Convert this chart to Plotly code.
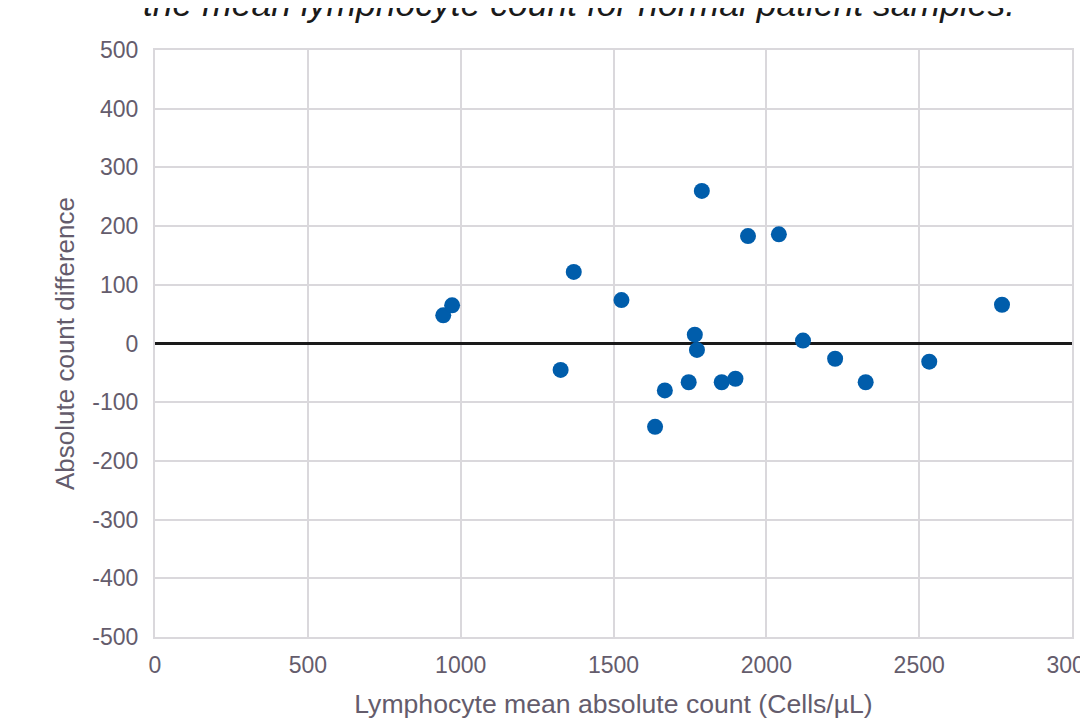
import plotly.graph_objects as go

mean_count = [943, 972, 1327, 1370, 1526, 1636, 1668, 1746, 1766, 1773,
              1789, 1854, 1899, 1940, 2041, 2120, 2225, 2325, 2533, 2771]
count_diff = [48, 65, -45, 122, 74, -142, -80, -66, 15, -11,
              260, -66, -60, 183, 186, 5, -26, -66, -31, 66]

x_ticks = [0, 500, 1000, 1500, 2000, 2500, 3000]
y_ticks = [-500, -400, -300, -200, -100, 0, 100, 200, 300, 400, 500]

title_text = "the mean lymphocyte count for normal patient samples."
x_title = "Lymphocyte mean absolute count (Cells/µL)"
y_title = "Absolute count difference"

txt_color = "#645C6C"
grid_color = "#DAD8DC"
font_family = "Liberation Sans, Arial, sans-serif"

fig = go.Figure()
fig.add_trace(go.Scatter(
    x=mean_count, y=count_diff, mode="markers",
    marker=dict(size=16, color="#005DAB", line=dict(width=0)),
    showlegend=False, cliponaxis=False,
))

fig.update_layout(
    width=1080, height=711,
    margin=dict(l=147, r=16, t=42, b=82, autoexpand=False),
    paper_bgcolor="white", plot_bgcolor="white",
    font=dict(family=font_family, color=txt_color, size=23),
    xaxis=dict(
        range=[0, 3000], tickvals=x_ticks, ticktext=[str(v) for v in x_ticks],
        showgrid=True, gridcolor=grid_color, gridwidth=2,
        zeroline=False, showline=True, mirror=True,
        linecolor=grid_color, linewidth=2, automargin=False,
        ticks="outside", ticklen=6, tickcolor="rgba(0,0,0,0)",
        ticklabeloverflow="allow",
        tickfont=dict(size=23, color=txt_color),
        title=dict(text=x_title, font=dict(size=26.6, color=txt_color), standoff=31),
        fixedrange=True,
    ),
    yaxis=dict(
        range=[-500, 500], tickvals=y_ticks, ticktext=[str(v) for v in y_ticks],
        showgrid=True, gridcolor=grid_color, gridwidth=2,
        zeroline=True, zerolinecolor="#1A1A1A", zerolinewidth=3,
        showline=True, mirror=True, linecolor=grid_color, linewidth=2,
        automargin=False,
        ticks="outside", ticklen=10, tickcolor="rgba(0,0,0,0)",
        tickfont=dict(size=23, color=txt_color),
        title=dict(text=y_title, font=dict(size=26, color=txt_color), standoff=10),
        fixedrange=True,
    ),
    annotations=[dict(
        text="<i>" + title_text + "</i>", xref="paper", yref="paper",
        x=0.462, y=1.0415, xanchor="center", yanchor="bottom",
        showarrow=False, font=dict(size=35.5, color="#1A1A1A", family=font_family),
    )],
)

fig.write_html("out.html")
